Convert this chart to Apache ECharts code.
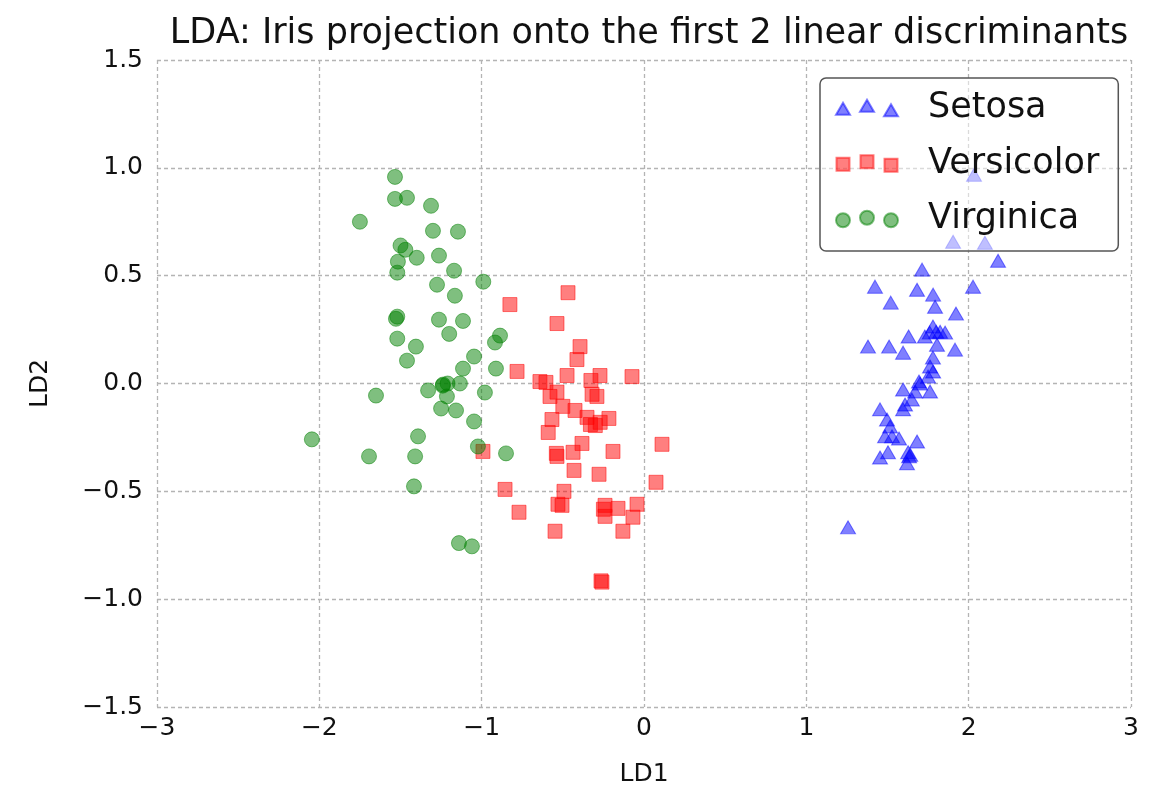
<!DOCTYPE html>
<html>
<head>
<meta charset="utf-8">
<title>LDA Iris projection</title>
<script src="https://cdn.jsdelivr.net/npm/echarts@6/dist/echarts.min.js"></script>
<style>
  html, body { margin: 0; padding: 0; background: #fff; }
  #chart { width: 1168px; height: 792px; }
</style>
</head>
<body>
<div id="chart"></div>
<script>
// Projected samples: [LD1, LD2] for each iris class
const setosa = [
  [2.033, 0.968], [1.904, 0.657], [2.100, 0.653], [2.181, 0.569], [1.713, 0.528],
  [1.423, 0.449], [2.027, 0.449], [1.682, 0.435], [1.781, 0.412], [1.520, 0.375],
  [1.793, 0.356], [1.922, 0.324], [1.780, 0.264], [1.760, 0.236], [1.824, 0.240],
  [1.855, 0.236], [1.730, 0.218], [1.630, 0.218], [1.380, 0.171], [1.510, 0.171],
  [1.596, 0.143], [1.805, 0.180], [1.916, 0.157], [1.780, 0.120], [1.762, 0.079],
  [1.781, 0.056], [1.750, 0.032], [1.694, 0.009], [1.596, -0.028], [1.670, -0.037],
  [1.762, -0.037], [1.650, -0.074], [1.608, -0.097], [1.596, -0.120], [1.454, -0.120],
  [1.497, -0.167], [1.516, -0.199], [1.485, -0.245], [1.528, -0.245], [1.571, -0.255],
  [1.682, -0.269], [1.503, -0.319], [1.454, -0.343], [1.627, -0.319], [1.633, -0.338],
  [1.620, -0.370], [1.257, -0.667], [1.640, -0.330], [1.800, 0.240], [1.700, 0.000]
];
const versicolor = [
  [-0.468, 0.421], [-0.826, 0.366], [-0.536, 0.278], [-0.394, 0.171], [-0.413, 0.111],
  [-0.782, 0.056], [-0.474, 0.037], [-0.271, 0.037], [-0.074, 0.032], [-0.641, 0.009],
  [-0.604, 0.005], [-0.327, 0.014], [-0.579, -0.060], [-0.536, -0.040], [-0.320, -0.050],
  [-0.290, -0.060], [-0.500, -0.106], [-0.425, -0.125], [-0.567, -0.167], [-0.351, -0.157],
  [-0.216, -0.162], [-0.330, -0.190], [-0.300, -0.195], [-0.270, -0.180], [-0.590, -0.227],
  [-0.382, -0.278], [-0.540, -0.324], [-0.536, -0.338], [-0.437, -0.319], [-0.191, -0.315],
  [-0.992, -0.315], [0.111, -0.282], [-0.431, -0.403], [-0.277, -0.421], [0.074, -0.458],
  [-0.856, -0.491], [-0.493, -0.500], [-0.530, -0.560], [-0.505, -0.565], [-0.043, -0.560],
  [-0.240, -0.565], [-0.250, -0.583], [-0.160, -0.579], [-0.068, -0.620], [-0.770, -0.597],
  [-0.240, -0.616], [-0.130, -0.685], [-0.548, -0.685], [-0.259, -0.921], [-0.265, -0.915]
];
const virginica = [
  [-1.534, 0.958], [-1.534, 0.856], [-1.460, 0.861], [-1.312, 0.824], [-1.750, 0.750],
  [-1.300, 0.708], [-1.146, 0.704], [-1.500, 0.640], [-1.470, 0.620], [-1.400, 0.583],
  [-1.263, 0.593], [-1.516, 0.565], [-1.170, 0.523], [-1.520, 0.514], [-0.990, 0.472],
  [-1.275, 0.458], [-1.165, 0.407], [-1.528, 0.300], [-1.520, 0.310], [-1.263, 0.296],
  [-1.115, 0.290], [-1.200, 0.230], [-0.887, 0.222], [-0.918, 0.190], [-1.520, 0.208],
  [-1.405, 0.171], [-1.460, 0.106], [-1.047, 0.125], [-1.115, 0.069], [-0.912, 0.069],
  [-1.330, -0.032], [-1.238, -0.005], [-1.210, 0.000], [-1.134, 0.000], [-1.214, -0.060],
  [-1.651, -0.056], [-0.980, -0.042], [-1.250, -0.116], [-1.158, -0.125], [-1.047, -0.176],
  [-1.392, -0.245], [-2.046, -0.259], [-1.023, -0.292], [-0.850, -0.324], [-1.694, -0.338],
  [-1.410, -0.338], [-1.417, -0.477], [-1.140, -0.740], [-1.060, -0.755], [-1.240, -0.010]
];

const classNames = ['Setosa', 'Versicolor', 'Virginica'];
const xTicks = { min: -3, max: 3, interval: 1 };
const yTicks = { min: -1.5, max: 1.5, interval: 0.5 };

const FONT = 'DejaVu Sans';
const minus = s => String(s).replace('-', '\u2212');

// legend handles: three markers each, at staggered heights
const triIcon = 'path://M0 15 L7 3 L14 15 Z M24 12 L31 0 L38 12 Z M48 16.5 L55 4.5 L62 16.5 Z';
const sqIcon = 'path://M0.5 2.5 h13 v13 h-13 Z M24.5 0 h13 v13 h-13 Z M48.5 3.5 h13 v13 h-13 Z';
function circ(cx, cy, r) {
  return 'M' + (cx - r) + ' ' + cy + ' A' + r + ' ' + r + ' 0 1 0 ' + (cx + r) + ' ' + cy +
         ' A' + r + ' ' + r + ' 0 1 0 ' + (cx - r) + ' ' + cy + ' Z ';
}
const circIcon = 'path://' + circ(7, 9.5, 7) + circ(31, 7, 7) + circ(55, 9.5, 7);

const chart = echarts.init(document.getElementById('chart'), null, { renderer: 'canvas' });

const gridLine = { show: true, lineStyle: { color: '#b4b4b4', width: 1.3, type: [4, 3] } };

function scatter(name, data, symbol, size, color) {
  return {
    name: name,
    type: 'scatter',
    data: data,
    symbol: symbol,
    symbolSize: size,
    itemStyle: { color: color, borderColor: color, borderWidth: 1, opacity: 1 },
    emphasis: { disabled: true }
  };
}

chart.setOption({
  animation: false,
  backgroundColor: '#fff',
  title: {
    text: 'LDA: Iris projection onto the first 2 linear discriminants',
    left: 644,
    textAlign: 'center',
    top: 11,
    textStyle: { fontFamily: FONT, fontSize: 35, fontWeight: 'normal', color: '#111' }
  },
  grid: { left: 157, right: 37, top: 60, bottom: 84 },
  xAxis: {
    type: 'value',
    min: xTicks.min, max: xTicks.max, interval: xTicks.interval,
    name: 'LD1',
    nameLocation: 'middle',
    nameGap: 55,
    nameTextStyle: { fontFamily: FONT, fontSize: 25, color: '#111' },
    axisLine: { show: false },
    axisTick: { show: false },
    axisLabel: {
      fontFamily: FONT, fontSize: 25, color: '#111', margin: 9,
      formatter: v => minus(v)
    },
    splitLine: gridLine
  },
  yAxis: {
    type: 'value',
    min: yTicks.min, max: yTicks.max, interval: yTicks.interval,
    name: 'LD2',
    nameLocation: 'middle',
    nameGap: 104,
    nameTextStyle: { fontFamily: FONT, fontSize: 25, color: '#111' },
    axisLine: { show: false },
    axisTick: { show: false },
    axisLabel: {
      fontFamily: FONT, fontSize: 25, color: '#111', margin: 14,
      formatter: v => minus(v.toFixed(1))
    },
    splitLine: gridLine
  },
  legend: {
    orient: 'vertical',
    left: 820,
    top: 78,
    padding: [12, 19, 14, 15],
    itemWidth: 62,
    itemHeight: 16.5,
    itemGap: 19.5,
    selectedMode: false,
    backgroundColor: 'rgba(255,255,255,0.5)',
    borderColor: '#555',
    borderWidth: 1.5,
    borderRadius: 6,
    textStyle: { fontFamily: FONT, fontSize: 35, color: '#111', lineHeight: 36, padding: [0, 0, 0, 25] },
    data: [
      { name: classNames[0], icon: triIcon },
      { name: classNames[1], icon: sqIcon },
      { name: classNames[2], icon: circIcon }
    ]
  },
  series: [
    scatter(classNames[0], setosa, 'triangle', [15, 13], 'rgba(0,0,255,0.5)'),
    scatter(classNames[1], versicolor, 'rect', 14, 'rgba(255,0,0,0.5)'),
    scatter(classNames[2], virginica, 'circle', 15, 'rgba(0,128,0,0.5)')
  ]
});
</script>
</body>
</html>
